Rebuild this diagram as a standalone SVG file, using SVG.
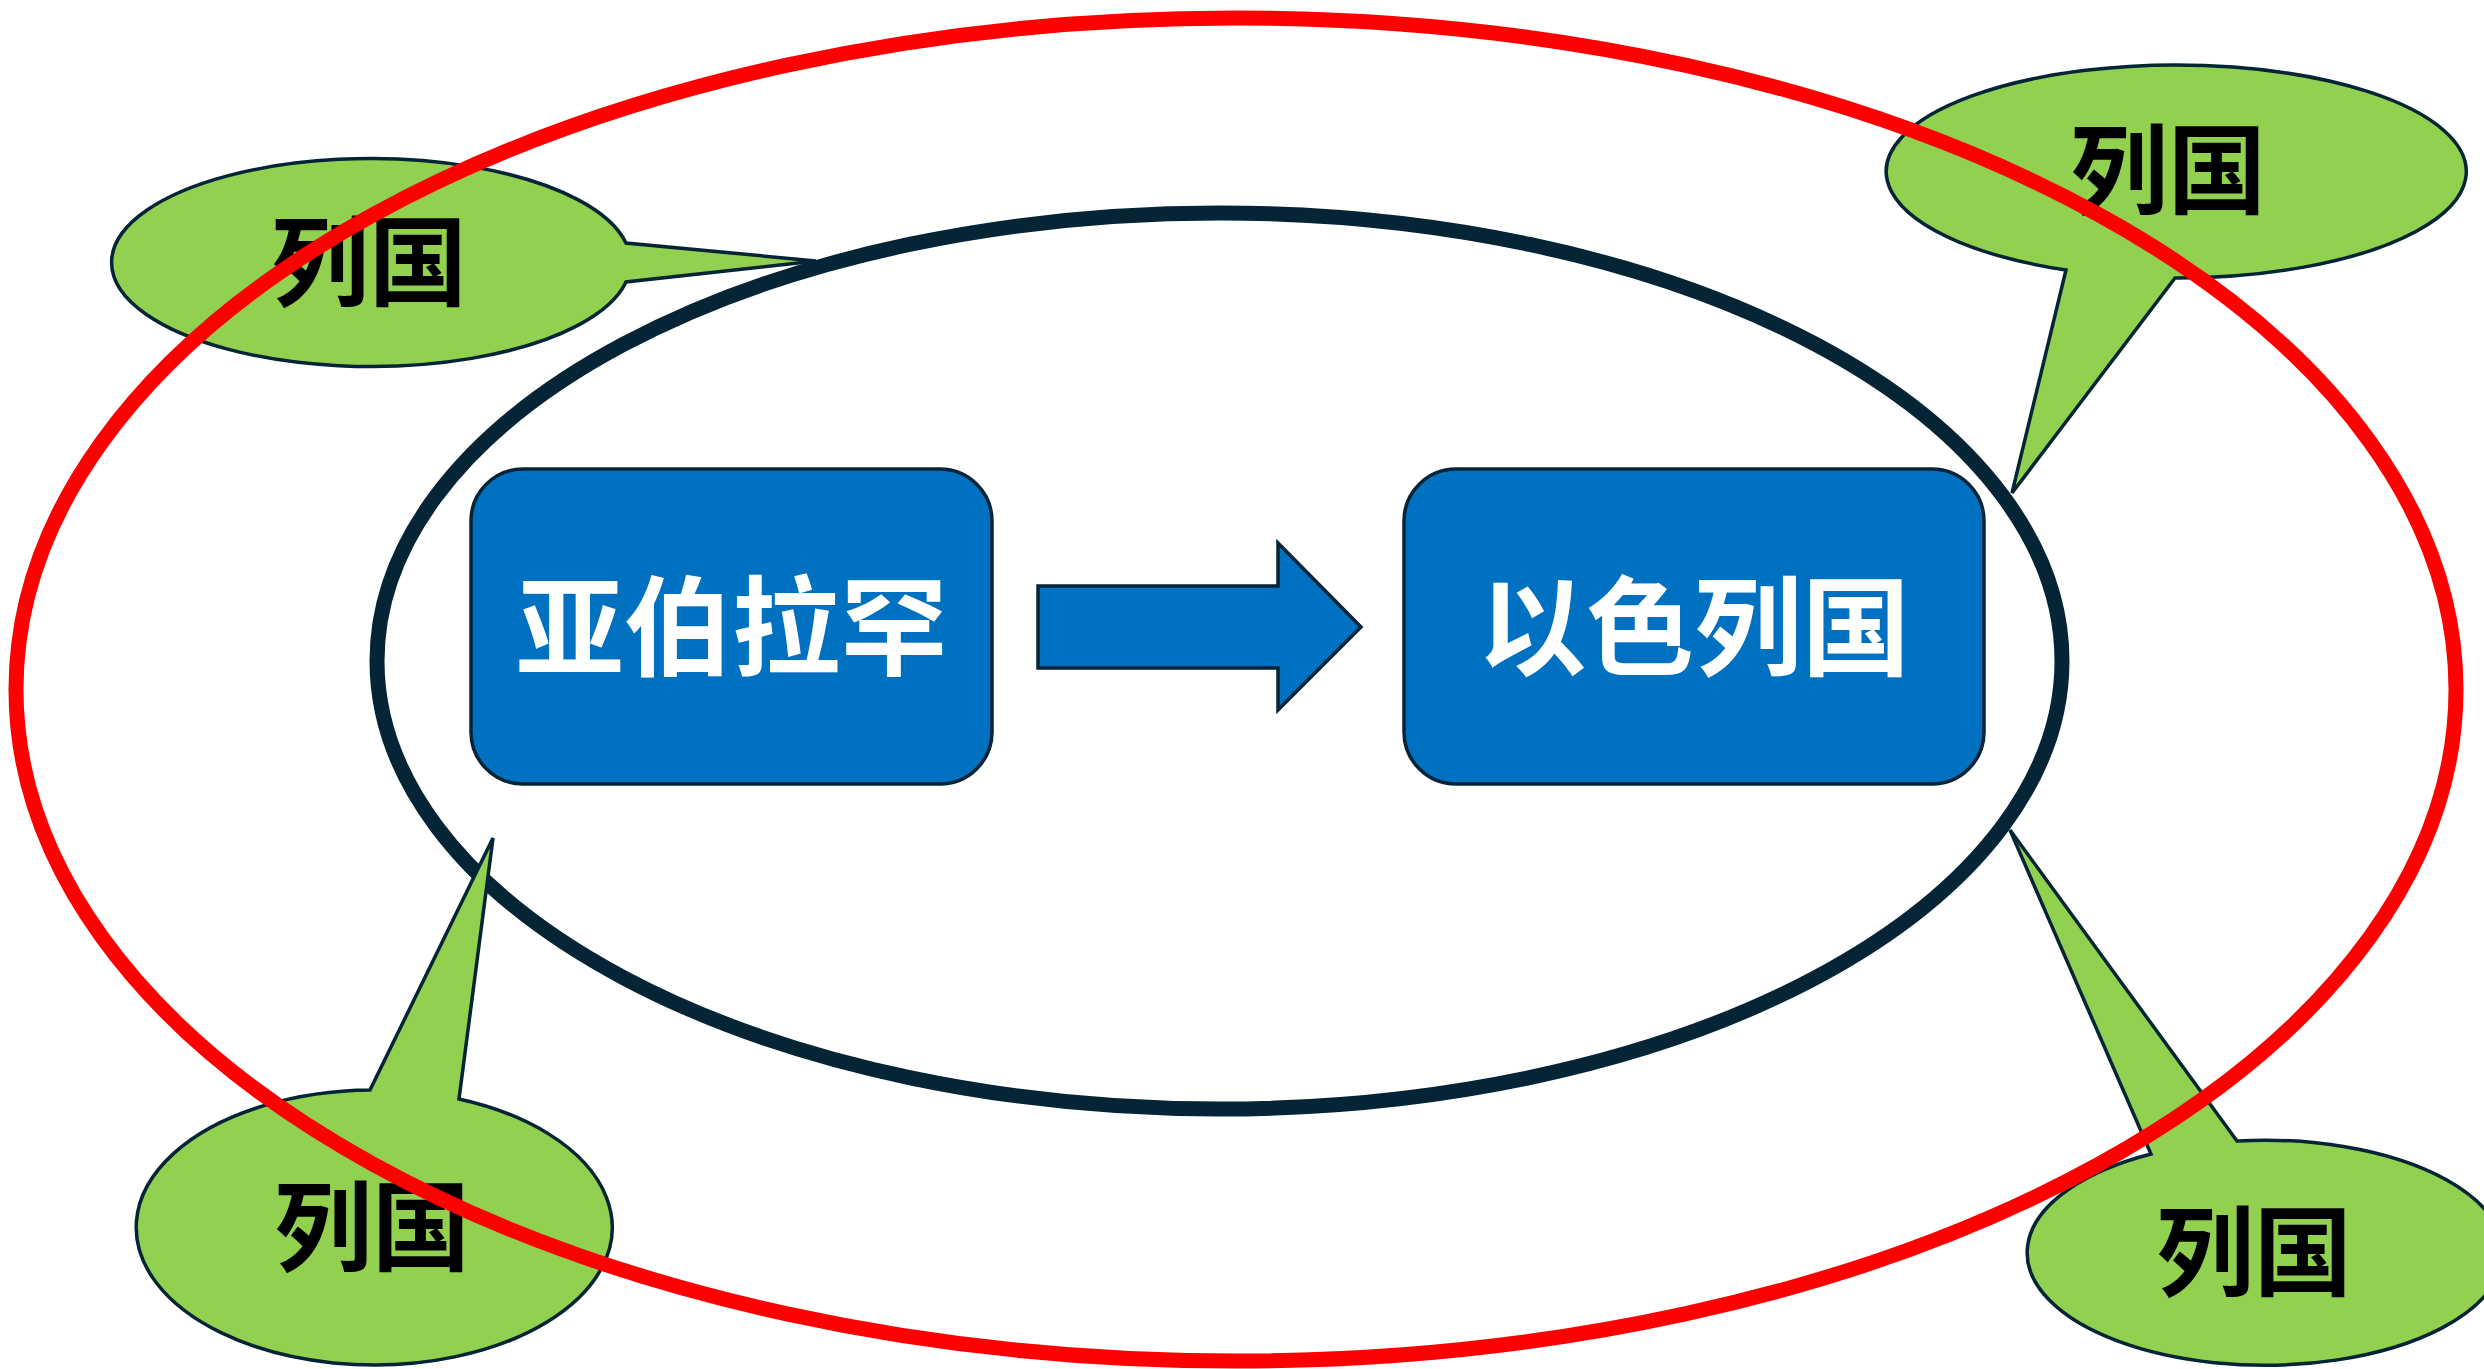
<svg xmlns="http://www.w3.org/2000/svg" width="2484" height="1369" viewBox="0 0 2484 1369">
<style>
.bg{fill:#ffffff}
.callout{fill:#92D050;stroke:#052435;stroke-width:3.5;stroke-linejoin:miter}
.ctext{font-family:"Noto Sans CJK SC","Noto Sans CJK TC",sans-serif;font-weight:bold;font-size:98px;fill:#000000;text-anchor:middle;dominant-baseline:central}
.box{fill:#0070C0;stroke:#052435;stroke-width:3.5}
.btext{font-family:"Noto Sans CJK SC","Noto Sans CJK TC",sans-serif;font-weight:bold;font-size:108px;fill:#ffffff;text-anchor:middle;dominant-baseline:central}
.inner{fill:none;stroke:#052435;stroke-width:15}
.outer{fill:none;stroke:#FF0000;stroke-width:15}
</style>
<rect class="bg" x="0" y="0" width="2484" height="1369"/>
<g id="callout-top-left">
<path class="callout" d="M626,243 A259.5,104 0 1 0 626,282 L816,261 Z"/>
<text class="ctext" x="369" y="255">列国</text>
</g>
<g id="scope-inner">
<ellipse class="inner" cx="1219.5" cy="661" rx="842.5" ry="448"/>
</g>
<g id="node-abraham">
<rect class="box" x="471" y="469" width="521" height="315" rx="52" ry="52"/>
<text class="btext" x="732" y="620">亚伯拉罕</text>
</g>
<g id="node-israel">
<rect class="box" x="1404" y="469" width="580" height="315" rx="52" ry="52"/>
<text class="btext" x="1694" y="620">以色列国</text>
</g>
<g id="connectors">
<path class="box" d="M1038,586 L1278,586 L1278,543 L1361,627 L1278,710 L1278,668 L1038,668 Z"/>
</g>
<g id="callout-top-right">
<path class="callout" d="M2066,270 A290,106.5 0 1 1 2175,278 L2012,493 Z"/>
<text class="ctext" x="2168" y="163">列国</text>
</g>
<g id="callout-bottom-left">
<path class="callout" d="M370,1090 A238,137.5 0 1 0 459,1099 L493,838 Z"/>
<text class="ctext" x="372" y="1220">列国</text>
</g>
<g id="callout-bottom-right">
<path class="callout" d="M2237,1141 A238,112.5 0 1 1 2151,1154 L2010,830 Z"/>
<text class="ctext" x="2254" y="1245">列国</text>
</g>
<g id="scope-outer">
<ellipse class="outer" cx="1236" cy="689.5" rx="1220" ry="671.5"/>
</g>
</svg>
